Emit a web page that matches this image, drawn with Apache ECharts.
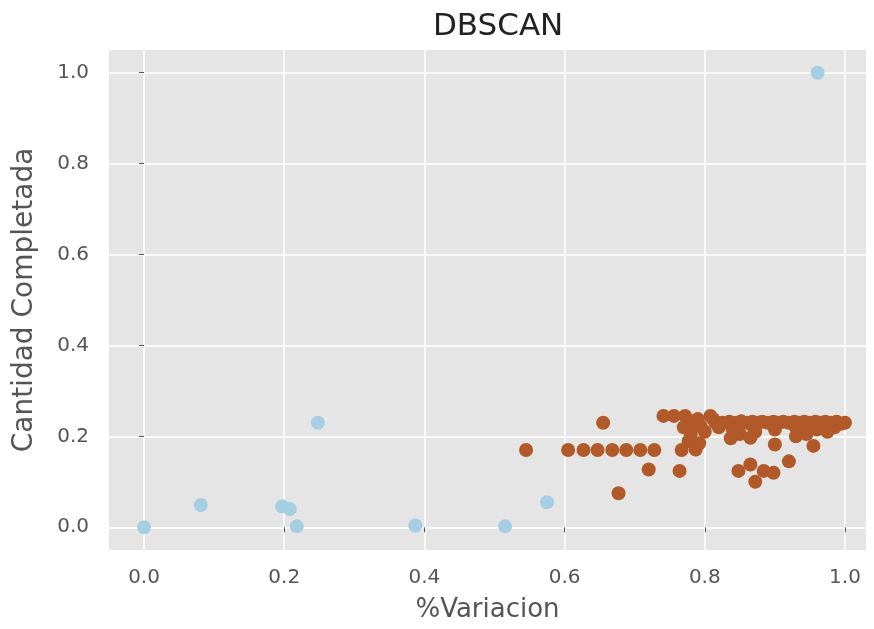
<!DOCTYPE html>
<html>
<head>
<meta charset="utf-8">
<script src="https://cdn.jsdelivr.net/npm/echarts@6/dist/echarts.min.js"></script>
<style>
  html, body { margin: 0; padding: 0; background: #ffffff; }
  #chart { width: 874px; height: 629px; }
</style>
</head>
<body>
<div id="chart"></div>
<script>
// Cluster labels found by DBSCAN: noise / small group (light blue) and main group (brown)
const titleText = 'DBSCAN';
const xName = '%Variacion';
const yName = 'Cantidad Completada';
const tickValues = [0.0, 0.2, 0.4, 0.6, 0.8, 1.0];

const clusterA = [
  [0.000, 0.000], [0.081, 0.049], [0.197, 0.046], [0.208, 0.040],
  [0.218, 0.002], [0.248, 0.230], [0.387, 0.004], [0.515, 0.002],
  [0.575, 0.055], [0.961, 1.000]
];

const clusterB = [
  [0.545, 0.170], [0.605, 0.170], [0.627, 0.170], [0.647, 0.170],
  [0.668, 0.170], [0.688, 0.170], [0.708, 0.170], [0.728, 0.170],
  [0.655, 0.230], [0.677, 0.075], [0.720, 0.127], [0.764, 0.124],
  [0.767, 0.170], [0.777, 0.190], [0.787, 0.171], [0.792, 0.185],
  [0.800, 0.210], [0.794, 0.223], [0.741, 0.245], [0.756, 0.245],
  [0.772, 0.245], [0.808, 0.245], [0.783, 0.232], [0.770, 0.220],
  [0.790, 0.238], [0.812, 0.238], [0.780, 0.205],
  [0.815, 0.230], [0.825, 0.230], [0.835, 0.232], [0.845, 0.230],
  [0.852, 0.233], [0.860, 0.230], [0.868, 0.232], [0.875, 0.230],
  [0.882, 0.232], [0.890, 0.230], [0.898, 0.232], [0.905, 0.230],
  [0.912, 0.232], [0.920, 0.230], [0.928, 0.232], [0.935, 0.230],
  [0.942, 0.232], [0.950, 0.230], [0.958, 0.232], [0.965, 0.230],
  [0.972, 0.232], [0.980, 0.230], [0.988, 0.232], [0.995, 0.228],
  [1.000, 0.230],
  [0.820, 0.220], [0.840, 0.215], [0.870, 0.220], [0.900, 0.215],
  [0.930, 0.220], [0.960, 0.215], [0.985, 0.220], [0.975, 0.210],
  [0.850, 0.205], [0.872, 0.210], [0.930, 0.200], [0.945, 0.205],
  [0.837, 0.196], [0.865, 0.197], [0.900, 0.182], [0.955, 0.179],
  [0.920, 0.145],
  [0.848, 0.124], [0.865, 0.138], [0.872, 0.100], [0.884, 0.124],
  [0.898, 0.120]
];

const chart = echarts.init(document.getElementById('chart'), null, { renderer: 'canvas' });

const tickLabelStyle = { color: '#555555', fontSize: 20, fontFamily: 'DejaVu Sans' };

chart.setOption({
  backgroundColor: '#ffffff',
  animation: false,
  title: {
    text: titleText,
    left: 428,
    top: 6,
    textStyle: { color: '#222222', fontSize: 31, fontWeight: 'normal', fontFamily: 'DejaVu Sans' }
  },
  grid: {
    left: 109, right: 8, top: 50, bottom: 79,
    outerBoundsMode: 'none',
    containLabel: false,
    show: true, backgroundColor: '#e5e5e5', borderWidth: 0
  },
  xAxis: {
    type: 'value',
    min: -0.05, max: 1.03,
    name: xName,
    nameLocation: 'middle',
    nameGap: 47,
    nameTextStyle: { color: '#555555', fontSize: 26, fontFamily: 'DejaVu Sans' },
    axisLine: { show: false },
    axisTick: { show: true, length: 5, lineStyle: { color: '#555555' }, customValues: tickValues },
    axisLabel: Object.assign({ margin: 18, customValues: tickValues, formatter: v => v.toFixed(1) }, tickLabelStyle),
    splitLine: { show: true, lineStyle: { color: '#ffffff', width: 1.5 } }
  },
  yAxis: {
    type: 'value',
    min: -0.05, max: 1.05,
    name: yName,
    nameLocation: 'middle',
    nameGap: 70,
    nameTextStyle: { color: '#555555', fontSize: 28, fontFamily: 'DejaVu Sans' },
    axisLine: { show: false },
    axisTick: { show: true, length: 5, lineStyle: { color: '#555555' }, customValues: tickValues },
    axisLabel: Object.assign({ margin: 20, customValues: tickValues, formatter: v => v.toFixed(1) }, tickLabelStyle),
    splitLine: { show: true, lineStyle: { color: '#ffffff', width: 1.5 } }
  },
  series: [
    {
      type: 'scatter',
      data: clusterA,
      symbolSize: 14,
      itemStyle: { color: '#a6cee3', opacity: 1 }
    },
    {
      type: 'scatter',
      data: clusterB,
      symbolSize: 14,
      itemStyle: { color: '#b15928', opacity: 1 }
    }
  ]
});
</script>
</body>
</html>
